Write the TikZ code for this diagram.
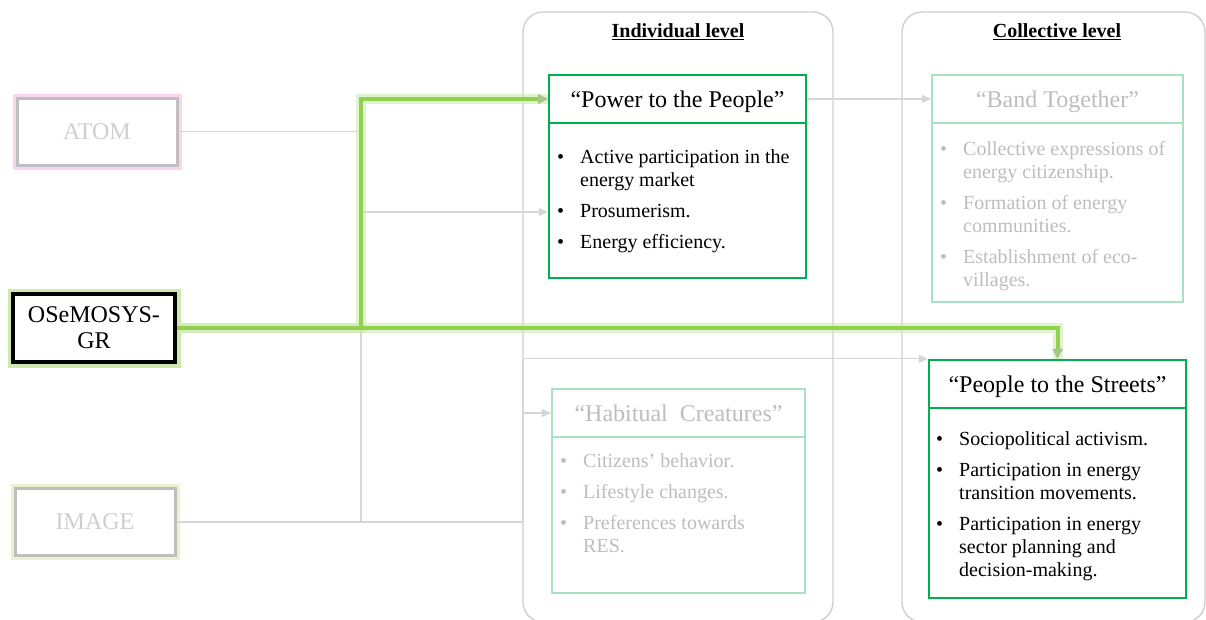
\documentclass[tikz,border=0pt]{standalone}
\usepackage{fontspec}
\setmainfont{Liberation Serif}
\usetikzlibrary{arrows.meta}

\definecolor{cardgreen}{HTML}{00B050}
\definecolor{fadegreen}{HTML}{A9E2C2}
\definecolor{fadetext}{HTML}{BDBDBD}
\definecolor{panelgray}{HTML}{CFCFCF}
\definecolor{linkgray}{HTML}{D6D6D6}
\definecolor{limegreen}{HTML}{92D050}
\definecolor{limeglow}{HTML}{CDE9AE}
\definecolor{pinkglow}{HTML}{FAD4F0}
\definecolor{yellowglow}{HTML}{EFF1CC}
\definecolor{modelgray}{HTML}{BFBFBF}
\definecolor{modeltext}{HTML}{CFCFCF}
\definecolor{tipgreen}{HTML}{A6C48A}

% bullet lists with a hanging indent
\newlength{\bind}\setlength{\bind}{23pt}
\newcommand{\bitem}[1]{\par\hangindent=\bind\hangafter=1\noindent\strut\makebox[\bind][l]{\textbullet}#1}
\newcommand{\blist}[1]{\begin{minipage}[t]{240pt}\fontsize{20}{23}\selectfont\setlength{\parskip}{8pt}\raggedright #1\par\end{minipage}}

\begin{document}
\begin{tikzpicture}[x=1pt,y=-1pt,
  model/.style={line width=3pt, minimum width=160pt, minimum height=67pt, inner sep=0pt,
    fill=white, font=\fontsize{24}{26}\selectfont, align=center},
  atombox/.style={model, draw=modelgray, text=modeltext, preaction={draw=pinkglow, line width=9pt}},
  imagebox/.style={model, draw=modelgray, text=modeltext, preaction={draw=yellowglow, line width=9pt}},
  osmbox/.style={model, draw=black, line width=4pt, minimum width=162pt, minimum height=68pt,
    preaction={draw=limeglow, line width=11pt}},
  panel/.style={draw=panelgray, line width=1.4pt, rounded corners=20pt, inner sep=0pt},
  level/.style={font=\fontsize{20}{23}\selectfont\bfseries, inner sep=0pt},
  head/.style={draw=cardgreen, line width=2.5pt, minimum width=257pt, minimum height=48pt,
    inner sep=0pt, text height=19pt, text depth=2pt, font=\fontsize{24}{26}\selectfont},
  body/.style={draw=cardgreen, line width=2.5pt, minimum width=257pt, inner sep=0pt},
  fadehead/.style={head, draw=fadegreen, line width=2pt, text=fadetext},
  fadebody/.style={body, draw=fadegreen, line width=2pt},
  list/.style={anchor=north west, inner sep=0pt},
  fadelist/.style={list, text=fadetext},
  link/.style={draw=linkgray, line width=1.2pt},
  tip/.style={-{Triangle[length=9pt,width=8pt]}},
  glowline/.style={draw=limeglow, line width=10pt, opacity=0.6},
  coreline/.style={draw=limegreen, line width=4pt},
  greentip/.style={-{Triangle[length=10pt,width=10pt,color=tipgreen]}}
]
\useasboundingbox (0,0) rectangle (1206,619);
\clip (0,0) rectangle (1206,619);

% level panels
\node[panel, minimum width=310pt, minimum height=610pt] (indiv) at (678,317) {};
\node[panel, minimum width=303pt, minimum height=610pt] (coll) at (1053.5,317) {};
\node[level] (indivt) at (678,32) {\underline{Individual level}};
\node[level] (collt) at (1057,32) {\underline{Collective level}};

% models
\node[atombox] (atom) at (97,131.5) {ATOM};
\node[osmbox] (osm) at (94,328) {OSeMOSYS-\\GR};
\node[imagebox] (image) at (95,522) {IMAGE};

% Power to the People
\node[head] (pw) at (677.5,99) {``Power to the People''};
\node[body, minimum height=155pt] (pwb) at (677.5,200.5) {};
\node[list] (pwl) at (557,147.5) {\blist{%
  \bitem{Active participation in the\newline energy market}%
  \bitem{Prosumerism.}%
  \bitem{Energy efficiency.}}};

% Band Together
\node[fadehead, minimum width=251pt] (bt) at (1057.5,99) {``Band Together''};
\node[fadebody, minimum width=251pt, minimum height=179pt] (btb) at (1057.5,212.5) {};
\node[fadelist] (btl) at (940,139.5) {\blist{%
  \bitem{Collective expressions of\newline energy citizenship.}%
  \bitem{Formation of energy\newline communities.}%
  \bitem{Establishment of eco-\newline villages.}}};

% Habitual Creatures
\node[fadehead, minimum width=253pt] (hc) at (678.5,413) {``Habitual\ \ Creatures''};
\node[fadebody, minimum width=253pt, minimum height=156pt] (hcb) at (678.5,515) {};
\node[fadelist] (hcl) at (560,451.5) {\blist{%
  \bitem{Citizens' behavior.}%
  \bitem{Lifestyle changes.}%
  \bitem{Preferences towards\newline RES.}}};

% People to the Streets
\node[head] (ps) at (1057.5,384) {``People to the Streets''};
\node[body, minimum height=190pt] (psb) at (1057.5,503) {};
\node[list] (psl) at (936,429.5) {\blist{%
  \bitem{Sociopolitical activism.}%
  \bitem{Participation in energy\newline transition movements.}%
  \bitem{Participation in energy\newline sector planning and\newline decision-making.}}};

% junctions of the grey links
\coordinate (ja) at (361,212);
\coordinate (jb) at (523,413);
\coordinate (jg) at (361,0);

% grey links
\draw[link] (atom.east) -| (ja);
\draw[link] (image.east) -| (ja);
\draw[link, tip] (ja) -- ([yshift=-11.5pt]pwb.west);
\draw[link] (image.east) -| (jb);
\draw[link, tip] (jb) -- (hc.west);
\draw[link, tip] (jb) |- (ps.north west);
\draw[link, tip] (pw.east) -- (bt.west);

% highlighted links from OSeMOSYS-GR
\draw[glowline] (osm.east) -- (osm.east -| jg) |- (pw.west);
\draw[glowline] (osm.east) -| (ps.north);
\draw[coreline, greentip] (osm.east) -- (osm.east -| jg) |- (pw.west);
\draw[coreline, greentip] (osm.east) -| (ps.north);
\end{tikzpicture}
\end{document}
